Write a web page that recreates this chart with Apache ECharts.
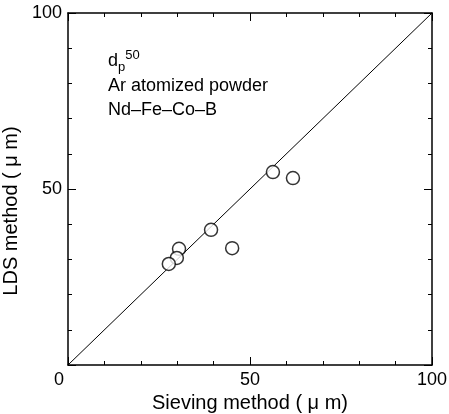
<!DOCTYPE html>
<html><head><meta charset="utf-8">
<script src="https://cdn.jsdelivr.net/npm/echarts@6/dist/echarts.min.js"></script>
<style>html,body{margin:0;padding:0;background:#fff}#c{width:449px;height:414px}</style>
</head><body><div id="c"></div>
<script>
const sievingX = [56.3, 61.8, 39.3, 45.1, 30.5, 29.9, 27.7];
const ldsY = [54.8, 53.1, 38.4, 33.2, 33.0, 30.4, 28.7];
const diagonal = [[0, 0], [100, 100]];
const xTickLabels = ['0', '50', '100'];
const yTickLabels = ['50', '100'];
const FONT = 'Liberation Sans, Arial, sans-serif';

const pts = sievingX.map((x, i) => [x, ldsY[i]]);
function axisBase(labels, showLabels) {
  return {
    type: 'value', min: 0, max: 100, interval: 50,
    axisLine: {show: true, onZero: false, lineStyle: {color: '#000', width: 1.5}},
    axisTick: {show: true, inside: false, length: -8, lineStyle: {color: '#000', width: 1}},
    minorTick: {show: true, splitNumber: 5, length: -4, lineStyle: {color: '#000', width: 1}},
    splitLine: {show: false},
    nameTextStyle: {fontFamily: FONT, fontSize: 20, color: '#000'},
    axisLabel: {show: showLabels, fontFamily: FONT, fontSize: 18, color: '#000', margin: 6,
      formatter: v => labels.includes(String(v)) ? (String(v) === '0' ? '{z|0}' : String(v)) : '',
      rich: {z: {fontFamily: FONT, fontSize: 18, color: '#000', padding: [0, 18, 0, 0]}}}
  };
}
const chart = echarts.init(document.getElementById('c'));
chart.setOption({
  animation: false,
  grid: {left: 68, right: 17, top: 13, bottom: 49, outerBoundsMode: 'none', containLabel: false},
  xAxis: [
    Object.assign(axisBase(xTickLabels, true), {position: 'bottom', name: 'Sieving method ( μ m)', nameLocation: 'middle', nameGap: 27}),
    Object.assign(axisBase(xTickLabels, false), {position: 'top'})
  ],
  yAxis: [
    Object.assign(axisBase(yTickLabels, true), {position: 'left', name: 'LDS method ( μ m)', nameLocation: 'middle', nameGap: 38,
      nameTextStyle: {fontFamily: FONT, fontSize: 20, color: '#000', padding: [0, 44, 0, 0]}}),
    Object.assign(axisBase(yTickLabels, false), {position: 'right'})
  ],
  graphic: [
    {type: 'text', x: 108, y: 61, style: {
      text: '{a|d}{s|p}{u|50}', verticalAlign: 'middle',
      rich: {
        a: {fontFamily: FONT, fontSize: 18, fill: '#000'},
        s: {fontFamily: FONT, fontSize: 13, fill: '#000', padding: [12, 0, 0, 0]},
        u: {fontFamily: FONT, fontSize: 13, fill: '#000', padding: [0, 0, 12, 0]}
      }}},
    {type: 'text', x: 108, y: 86, style: {text: 'Ar atomized powder', verticalAlign: 'middle', fontFamily: FONT, fontSize: 18, fill: '#000'}},
    {type: 'text', x: 108, y: 110, style: {text: 'Nd–Fe–Co–B', verticalAlign: 'middle', fontFamily: FONT, fontSize: 18, fill: '#000'}}
  ],
  series: [
    {type: 'line', data: diagonal, showSymbol: false, symbol: 'none',
     lineStyle: {color: '#000', width: 1}, z: 1},
    {type: 'scatter', data: pts, symbol: 'circle', symbolSize: 13,
     itemStyle: {color: '#fff', borderColor: '#000', borderWidth: 1.5}, z: 3}
  ]
});
</script></body></html>
